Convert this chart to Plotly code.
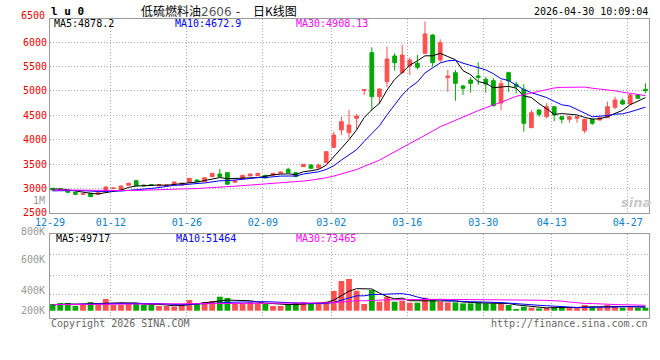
import plotly.graph_objects as go

# ---------------- data ----------------
dates = ["12-29", "12-30", "12-31",
         "01-05", "01-06", "01-07", "01-08", "01-09", "01-12", "01-13", "01-14", "01-15", "01-16",
         "01-19", "01-20", "01-21", "01-22", "01-23", "01-26", "01-27", "01-28", "01-29", "01-30",
         "02-02", "02-03", "02-04", "02-05", "02-06", "02-09", "02-10", "02-11", "02-12", "02-13",
         "02-24", "02-25", "02-26", "02-27",
         "03-02", "03-03", "03-04", "03-05", "03-06", "03-09", "03-10", "03-11", "03-12", "03-13",
         "03-16", "03-17", "03-18", "03-19", "03-20", "03-23", "03-24", "03-25", "03-26", "03-27",
         "03-30", "03-31", "04-01", "04-02", "04-03", "04-07", "04-08", "04-09", "04-10",
         "04-13", "04-14", "04-15", "04-16", "04-17", "04-20", "04-21", "04-22", "04-23", "04-24",
         "04-27", "04-28", "04-29"]

opens = [3006, 2990, 2957, 2924, 2884, 2904, 2883, 2945, 3002, 2971,
         3068, 3162, 3072, 3085, 3055, 3068, 3080, 3070, 3130, 3176,
         3142, 3245, 3299, 3326, 3130, 3203, 3260, 3265, 3272, 3272,
         3314, 3395, 3326, 3450, 3483, 3420, 3531, 3846, 4201, 4145,
         4440, 5010, 5785, 4883, 5190, 5717, 5375, 5512, 5567, 5772,
         6147, 5635, 5272, 5375, 5102, 5225, 5307, 5239, 5211, 4753,
         5375, 5137, 5035, 4248, 4610, 4473, 4678, 4473, 4420, 4440,
         4186, 4420, 4405, 4452, 4666, 4801, 4733, 4918, 5035]
highs = [3012, 3000, 2962, 2930, 2905, 2910, 2920, 3035, 3022, 3058,
         3121, 3170, 3085, 3092, 3085, 3088, 3140, 3120, 3215, 3185,
         3228, 3318, 3400, 3335, 3168, 3280, 3310, 3318, 3280, 3320,
         3345, 3428, 3332, 3505, 3490, 3510, 3770, 4166, 4473, 4610,
         4530, 5030, 5895, 5050, 5908, 5772, 5942, 5690, 5737, 6424,
         6160, 6059, 5430, 5430, 5123, 5280, 5588, 5290, 5260, 5225,
         5395, 5190, 5137, 4610, 4630, 4748, 4690, 4480, 4480, 4480,
         4430, 4430, 4470, 4781, 4883, 4850, 4935, 4930, 5157]
lows = [2962, 2970, 2918, 2863, 2875, 2828, 2878, 2940, 2990, 2965,
        3062, 3055, 3045, 3060, 3050, 3055, 3075, 3065, 3125, 3135,
        3138, 3240, 3238, 3085, 3125, 3198, 3255, 3260, 3210, 3268,
        3310, 3320, 3240, 3445, 3410, 3410, 3520, 3826, 4098, 4031,
        4215, 4918, 4596, 4733, 5076, 5416, 5360, 5328, 5440, 5758,
        5498, 5588, 4985, 4801, 4918, 4965, 5123, 4965, 4680, 4610,
        4985, 4952, 4166, 4240, 4473, 4440, 4385, 4338, 4350, 4350,
        4133, 4303, 4395, 4445, 4625, 4713, 4713, 4840, 4952]
closes = [2971, 2978, 2925, 2884, 2896, 2835, 2916, 3033, 3010, 3053,
          3108, 3060, 3058, 3065, 3078, 3075, 3135, 3113, 3210, 3142,
          3222, 3312, 3245, 3090, 3160, 3272, 3298, 3312, 3218, 3313,
          3340, 3326, 3245, 3498, 3416, 3483, 3756, 4098, 4371, 4303,
          4487, 5025, 4883, 5041, 5656, 5580, 5737, 5635, 5485, 6168,
          5580, 5989, 5307, 5157, 5055, 5157, 5280, 5143, 4699, 5149,
          5205, 5088, 4338, 4555, 4522, 4678, 4508, 4420, 4473, 4473,
          4420, 4338, 4452, 4678, 4815, 4733, 4918, 4850, 5006]
volumes = [94000, 108000, 108000, 66000, 94000, 122000, 108000, 164000, 80000, 80000,
           108000, 108000, 80000, 80000, 66000, 66000, 56000, 94000, 150000, 108000,
           122000, 136000, 196000, 178000, 94000, 108000, 122000, 108000, 94000, 66000,
           66000, 94000, 108000, 122000, 108000, 108000, 126000, 276000, 416000, 444000,
           280000, 94000, 290000, 126000, 196000, 126000, 140000, 112000, 112000, 182000,
           150000, 126000, 116000, 116000, 102000, 102000, 116000, 102000, 102000, 102000,
           80000, 24000, 56000, 42000, 32000, 42000, 46000, 46000, 42000, 46000,
           80000, 56000, 46000, 80000, 66000, 42000, 56000, 42000, 42000]

# estimated lead-in values before the first visible day (only feed the moving averages)
pre_closes = [3010, 3035, 3020, 2995, 3000, 2985, 2970, 2990, 3005, 2980,
              2965, 2950, 2975, 2990, 2970, 2985, 2960, 2945, 2955, 2930,
              2910, 2925, 2900, 2915, 2940, 2975, 3000, 3010, 2995]
pre_volumes = [90000, 85000, 100000, 80000, 75000, 95000, 88000, 70000, 92000, 105000,
               85000, 78000, 90000, 82000, 76000, 95000, 88000, 80000, 84000, 92000,
               86000, 78000, 90000, 100000, 85000, 70000, 80000, 88000, 76000]

tick_dates = ["12-29", "01-12", "01-26", "02-09", "03-02", "03-16", "03-30", "04-13", "04-27"]
price_ticks = [2500, 3000, 3500, 4000, 4500, 5000, 5500, 6000]
price_legend = ["MA5:4878.2", "MA10:4672.9", "MA30:4908.13"]
vol_legend = ["MA5:49717", "MA10:51464", "MA30:73465"]
vol_labels = ["800K", "600K", "400K", "200K"]

# ---------------- derived ----------------
def moving_avg(pre, vals, n):
    seq = pre + vals
    p = len(pre)
    return [sum(seq[k - n + 1:k + 1]) / n for k in range(p, len(seq))]

xs = list(range(len(dates)))
ma5 = moving_avg(pre_closes, closes, 5)
ma10 = moving_avg(pre_closes, closes, 10)
ma30 = moving_avg(pre_closes, closes, 30)
vma5 = moving_avg(pre_volumes, volumes, 5)
vma10 = moving_avg(pre_volumes, volumes, 10)
vma30 = moving_avg(pre_volumes, volumes, 30)

RED = "#ff5050"
GREEN = "#00a800"
MONO = "DejaVu Sans Mono"
GRID = "#aaaaaa"
FRAME = "#999999"
TICK_OFFSET = -0.33   # gridlines sit at the left edge of the labelled candle

tick_vals = [dates.index(d) + TICK_OFFSET for d in tick_dates]
bar_colors = [RED if c >= o else GREEN for o, c in zip(opens, closes)]

fig = go.Figure()
fig.add_trace(go.Candlestick(
    x=xs, open=opens, high=highs, low=lows, close=closes,
    increasing=dict(line=dict(color=RED, width=1), fillcolor=RED),
    decreasing=dict(line=dict(color=GREEN, width=1), fillcolor=GREEN),
    whiskerwidth=0, xaxis="x", yaxis="y", showlegend=False, hoverinfo="skip"))
for vals, col in [(ma5, "#000000"), (ma10, "#0000ff"), (ma30, "#ff00ff")]:
    fig.add_trace(go.Scatter(x=xs, y=vals, mode="lines", line=dict(color=col, width=1),
                             xaxis="x", yaxis="y", showlegend=False, hoverinfo="skip"))

fig.add_trace(go.Bar(x=xs, y=volumes, marker=dict(color=bar_colors, line=dict(width=0)),
                     width=0.76, xaxis="x2", yaxis="y2", showlegend=False, hoverinfo="skip"))
for vals, col in [(vma5, "#000000"), (vma10, "#0000ff"), (vma30, "#ff00ff")]:
    fig.add_trace(go.Scatter(x=xs, y=vals, mode="lines", line=dict(color=col, width=1),
                             xaxis="x2", yaxis="y2", showlegend=False, hoverinfo="skip"))

xcommon = dict(range=[-0.34, 78.47], tickvals=tick_vals, showgrid=True, gridcolor=GRID,
               griddash="1px,2px", gridwidth=1, showline=True, linecolor=FRAME, linewidth=1,
               mirror=True, ticks="", zeroline=False, fixedrange=True)

fig.update_layout(
    width=660, height=360,
    margin=dict(l=50, r=11, t=19, b=42),
    paper_bgcolor="white", plot_bgcolor="white",
    bargap=0.2,
    xaxis=dict(**xcommon, anchor="y", ticktext=tick_dates,
               tickfont=dict(family=MONO, size=10, color="#0a80c8"),
               rangeslider=dict(visible=False)),
    xaxis2=dict(**xcommon, anchor="y2", matches="x", showticklabels=False),
    yaxis=dict(domain=[0.3512, 1.0], range=[2500, 6475], tickvals=price_ticks,
               ticktext=[str(v) for v in price_ticks],
               tickfont=dict(family=MONO, size=10, color="#ee0000"),
               showgrid=True, gridcolor=GRID, griddash="1px,2px", gridwidth=1,
               showline=True, linecolor=FRAME, linewidth=1, mirror=True,
               ticks="", zeroline=False),
    yaxis2=dict(domain=[0.0, 0.2809], range=[-102200, 1073800],
                tickvals=[220000, 496000, 780000], showticklabels=False,
                showgrid=True, gridcolor=GRID, griddash="1px,2px", gridwidth=1,
                showline=True, linecolor=FRAME, linewidth=1, mirror=True,
                ticks="", zeroline=False),
)

def py(pix):
    return (318 - pix) / 299.0

def px(pix):
    return (pix - 50) / 599.0

ann = []
def add(text, x, y, xanchor="left", color="#000", size=10, family=MONO):
    ann.append(dict(text=text, x=px(x), y=py(y), xref="paper", yref="paper",
                    xanchor=xanchor, yanchor="middle", showarrow=False,
                    font=dict(family=family, size=size, color=color)))

add("<b>l u 0</b>", 49, 11, size=11)
add("低硫燃料油<span style='color:#555;font-family:DejaVu Sans'>2606</span>", 139, 10,
    size=12, family="Noto Sans CJK SC")
add("-", 237.5, 10, xanchor="center", size=12, family="Noto Sans CJK SC")
add("日K线图", 251, 10, size=12, family="Noto Sans CJK SC")
add("2026-04-30 10:09:04", 650, 11.5, xanchor="right")
add("6500", 47, 15.5, xanchor="right", color="#ee0000")
add("1M", 47, 200.5, xanchor="right", color="#999999")
for t, xx, col in zip(price_legend, [52, 173, 293.5], ["#000000", "#0000ff", "#ff00ff"]):
    add(t, xx, 24, color=col)
for t, xx, col in zip(vol_legend, [53.5, 174, 294], ["#000000", "#0000ff", "#ff00ff"]):
    add(t, xx, 238.5, color=col)
for t, yy in zip(vol_labels, [231.7, 259, 290.5, 310]):
    add(t, 47, yy, xanchor="right", color="#999999")
add("Copyright 2026 SINA.COM", 49, 323.5, color="#666666")
add("http://finance.sina.com.cn", 650, 323.5, xanchor="right", color="#666666")
add("<b><i>sina</i></b>", 636, 202, xanchor="center", color="#c8c8c8", size=13,
    family="DejaVu Sans")
fig.update_layout(annotations=ann)

fig.write_html("out.html", config={"displayModeBar": False, "staticPlot": True},
               post_script="document.body.style.margin='0px';document.body.style.padding='0px';")
